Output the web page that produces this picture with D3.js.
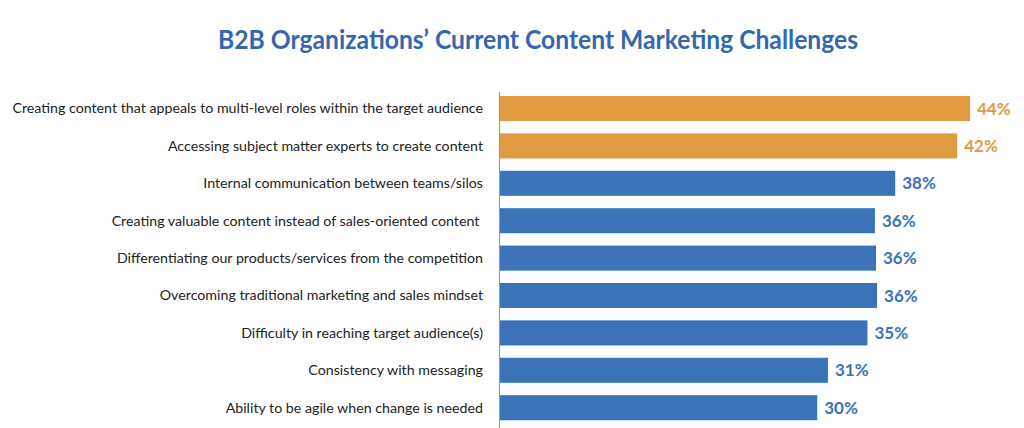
<!DOCTYPE html>
<html><head><meta charset="utf-8">
<script src="https://cdn.jsdelivr.net/npm/d3@7"></script>
<style>body{margin:0;background:#fff}svg{display:block}text.cat{white-space:pre}</style>
</head><body>
<svg id="c" width="1024" height="428"></svg>
<script>
const categories = [
  "Creating content that appeals to multi-level roles within the target audience",
  "Accessing subject matter experts to create content",
  "Internal communication between teams/silos",
  "Creating valuable content instead of sales-oriented content ",
  "Differentiating our products/services from the competition",
  "Overcoming traditional marketing and sales mindset",
  "Difficulty in reaching target audience(s)",
  "Consistency with messaging",
  "Ability to be agile when change is needed"
];
const values = [44, 42.8, 37.0, 35.1, 35.2, 35.3, 34.4, 30.7, 29.7];
const valueLabels = ["44%", "42%", "38%", "36%", "36%", "36%", "35%", "31%", "30%"];
const highlight = [true, true, false, false, false, false, false, false, false];
const title = "B2B Organizations’ Current Content Marketing Challenges";

const ORANGE = "#E19A3F", BLUE = "#3A73B8";
const svg = d3.select("#c");
const x = d3.scaleLinear().domain([0, 44]).range([500, 970]);
const y = d3.scaleBand().domain(categories).range([89.8, 426.4]).paddingInner(0.33).paddingOuter(0.165);

// title
const t = svg.append("text").attr("x", 538).attr("y", 49).attr("text-anchor", "middle")
  .attr("font-family", "Lato, sans-serif").attr("font-weight", "bold").attr("font-size", 26)
  .attr("fill", "#3567AE").text(title);
t.attr("textLength", 640).attr("lengthAdjust", "spacingAndGlyphs");

// bars
svg.selectAll("rect.bar").data(categories).join("rect").attr("class", "bar")
  .attr("x", x(0)).attr("y", d => y(d)).attr("height", y.bandwidth())
  .attr("width", (d, i) => x(values[i]) - x(0))
  .attr("fill", (d, i) => highlight[i] ? ORANGE : BLUE);

// axis line
svg.append("line").attr("x1", 499.5).attr("x2", 499.5).attr("y1", 92).attr("y2", 428)
  .attr("stroke", "#9a9a9a").attr("stroke-width", 1.2);

// category labels
const labels = svg.selectAll("text.cat").data(categories).join("text").attr("class", "cat")
  .attr("x", 483).attr("y", d => y(d) + y.bandwidth() / 2).attr("dy", "0.35em")
  .attr("text-anchor", "end").attr("font-family", "Lato, sans-serif").attr("font-size", 14)
  .attr("fill", "#222").text(d => d);
// fit font size so longest label spans ~471px
const w0 = labels.nodes()[0].getComputedTextLength();
labels.attr("font-size", 14 * 471 / w0);

// value labels
svg.selectAll("text.val").data(categories).join("text").attr("class", "val")
  .attr("x", (d, i) => x(values[i]) + 7).attr("y", d => y(d) + y.bandwidth() / 2).attr("dy", "0.36em")
  .attr("font-family", "Lato, sans-serif").attr("font-weight", "bold").attr("font-size", 17)
  .attr("fill", (d, i) => highlight[i] ? ORANGE : BLUE).text((d, i) => valueLabels[i]);
</script>
</body></html>
